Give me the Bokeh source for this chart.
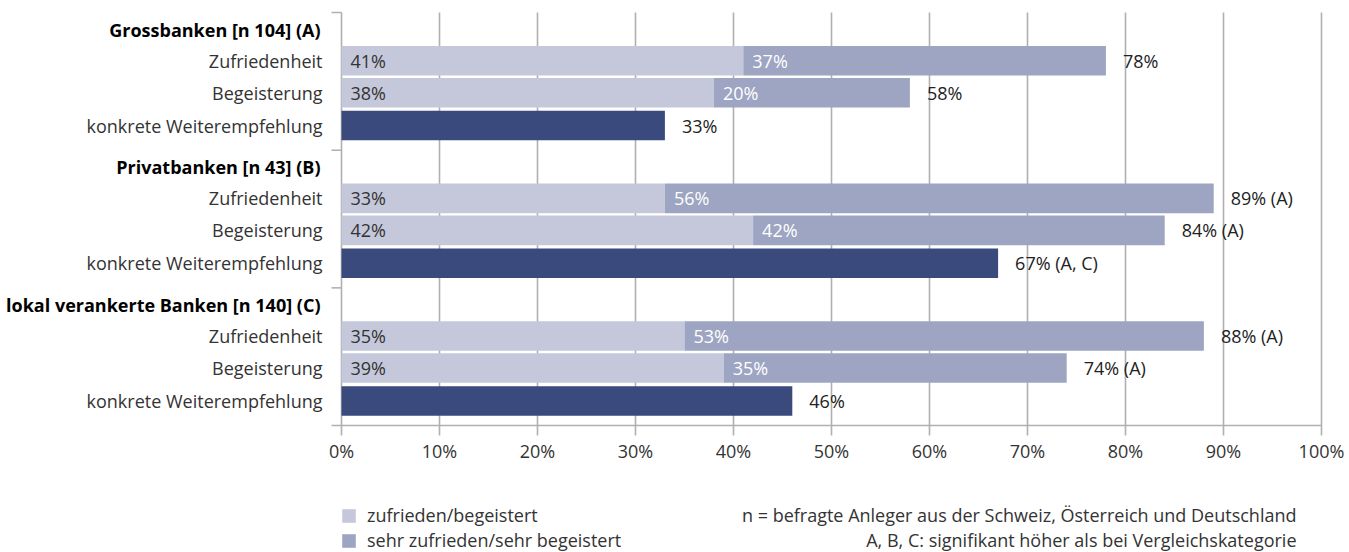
from bokeh.plotting import figure
from bokeh.models import Range1d, FixedTicker, NumeralTickFormatter, ColumnDataSource, Legend, LegendItem, Label
from bokeh.embed import file_html
from bokeh.resources import INLINE
from bokeh.core.properties import value

# ---------------- data ----------------
groups = ["Grossbanken [n 104] (A)", "Privatbanken [n 43] (B)", "lokal verankerte Banken [n 140] (C)"]
metrics = ["Zufriedenheit", "Begeisterung", "konkrete Weiterempfehlung"]
zufriedenheit_zufrieden = [41, 33, 35]
zufriedenheit_sehr = [37, 56, 53]
begeisterung_begeistert = [38, 42, 39]
begeisterung_sehr = [20, 42, 35]
weiterempfehlung = [33, 67, 46]
sig_zufriedenheit = ["", "(A)", "(A)"]
sig_begeisterung = ["", "(A)", "(A)"]
sig_weiterempfehlung = ["", "(A, C)", ""]
x_ticks = [0, 10, 20, 30, 40, 50, 60, 70, 80, 90, 100]
legend_labels = ["zufrieden/begeistert", "sehr zufrieden/sehr begeistert"]
notes = ["n = befragte Anleger aus der Schweiz, Österreich und Deutschland",
         "A, B, C: signifikant höher als bei Vergleichskategorie"]

# ---------------- styles ----------------
FONT = "Open Sans"
FS = "18px"
C_LIGHT = "#c5c8da"
C_MID = "#9da5c2"
C_DARK = "#3b4a7d"
C_GRID = "#b0b0b0"
C_TEXT = "#333333"

ROW_HEADER, ROW_Z, ROW_B, ROW_K = 0.5, 1.40, 2.33, 3.285
BAR_H = 0.86

W, H = 1349, 552
PX = 9.8        # px per percent
PY = 34.42      # px per row unit
X_ZERO_PX = 341
Y_ZERO_PX = 12


def ypos(g, off):
    return -(4 * g + off)


# build sources
light = dict(y=[], left=[], right=[])
mid = dict(y=[], left=[], right=[])
dark = dict(y=[], left=[], right=[])
in_lab = dict(x=[], y=[], text=[])
mid_lab = dict(x=[], y=[], text=[])
tot_lab = dict(x=[], y=[], text=[])
row_lab = dict(y=[], text=[])
head_lab = dict(y=[], text=[])

for g in range(len(groups)):
    head_lab["y"].append(ypos(g, ROW_HEADER)); head_lab["text"].append(groups[g])
    for off, name, a, b, sig in [
        (ROW_Z, metrics[0], zufriedenheit_zufrieden[g], zufriedenheit_sehr[g], sig_zufriedenheit[g]),
        (ROW_B, metrics[1], begeisterung_begeistert[g], begeisterung_sehr[g], sig_begeisterung[g]),
    ]:
        y = ypos(g, off)
        row_lab["y"].append(y); row_lab["text"].append(name)
        light["y"].append(y); light["left"].append(0); light["right"].append(a)
        mid["y"].append(y); mid["left"].append(a); mid["right"].append(a + b)
        in_lab["x"].append(0); in_lab["y"].append(y); in_lab["text"].append(f"{a}%")
        mid_lab["x"].append(a); mid_lab["y"].append(y); mid_lab["text"].append(f"{b}%")
        tot_lab["x"].append(a + b); tot_lab["y"].append(y)
        tot_lab["text"].append(f"{a + b}%" + (f" {sig}" if sig else ""))
    y = ypos(g, ROW_K)
    row_lab["y"].append(y); row_lab["text"].append(metrics[2])
    w = weiterempfehlung[g]
    dark["y"].append(y); dark["left"].append(0); dark["right"].append(w)
    sig = sig_weiterempfehlung[g]
    tot_lab["x"].append(w); tot_lab["y"].append(y)
    tot_lab["text"].append(f"{w}%" + (f" {sig}" if sig else ""))

# ---------------- figure ----------------
X0 = -X_ZERO_PX / PX
X1 = X0 + W / PX
Y1 = Y_ZERO_PX / PY
Y0 = Y1 - H / PY

p = figure(width=W, height=H,
           x_range=Range1d(X0, X1), y_range=Range1d(Y0, Y1),
           output_backend="svg", toolbar_location=None,
           y_axis_location=None,
           min_border_left=0, min_border_right=0,
           min_border_top=0, min_border_bottom=0)
p.outline_line_color = None
p.xgrid.visible = False
p.ygrid.visible = False
p.background_fill_color = "white"
p.border_fill_color = "white"

# grid lines
n = len(x_ticks) - 1
p.segment(x0=x_ticks[1:], y0=[0] * n, x1=x_ticks[1:], y1=[-12] * n,
          line_color=C_GRID, line_width=1.6)
# left bracket axis
p.segment(x0=[0], y0=[0], x1=[0], y1=[-12], line_color=C_GRID, line_width=1.6)
p.segment(x0=[-10 / PX] * 3, y0=[0, -4, -8], x1=[0] * 3, y1=[0, -4, -8],
          line_color=C_GRID, line_width=1.6)

r_light = p.hbar(y="y", left="left", right="right", height=BAR_H, source=ColumnDataSource(light),
                 fill_color=C_LIGHT, line_color=None)
r_mid = p.hbar(y="y", left="left", right="right", height=BAR_H, source=ColumnDataSource(mid),
               fill_color=C_MID, line_color=None)
p.hbar(y="y", left="left", right="right", height=BAR_H, source=ColumnDataSource(dark),
       fill_color=C_DARK, line_color=None)

common = dict(text_font=value(FONT), text_font_size=FS, text_baseline="middle")
p.text(x="x", y="y", text="text", source=ColumnDataSource(in_lab), x_offset=9,
       text_color=C_TEXT, text_align="left", **common)
p.text(x="x", y="y", text="text", source=ColumnDataSource(mid_lab), x_offset=9,
       text_color="white", text_align="left", **common)
p.text(x="x", y="y", text="text", source=ColumnDataSource(tot_lab), x_offset=17,
       text_color="#222222", text_align="left", **common)
p.text(x=0, y="y", text="text", source=ColumnDataSource(row_lab), x_offset=-19,
       text_color=C_TEXT, text_align="right", **common)
p.text(x=0, y="y", text="text", source=ColumnDataSource(head_lab), x_offset=-21,
       text_color="black", text_align="right", text_font_style="bold", **common)

# x axis, fixed at the bottom of the bar area
ax = p.xaxis[0]
ax.fixed_location = -12
ax.ticker = FixedTicker(ticks=x_ticks)
ax.formatter = NumeralTickFormatter(format="0")
ax.major_label_overrides = {t: f"{t}%" for t in x_ticks}
ax.bounds = (-10 / PX, 100)
ax.axis_line_color = C_GRID
ax.axis_line_width = 1.6
ax.major_tick_line_color = C_GRID
ax.major_tick_line_width = 1.6
ax.major_tick_out = 10
ax.major_tick_in = 0
ax.minor_tick_line_color = None
ax.major_label_standoff = 3
ax.major_label_text_font = FONT
ax.major_label_text_font_size = FS
ax.major_label_text_color = C_TEXT

# legend below bar area
legend = Legend(items=[LegendItem(label=legend_labels[0], renderers=[r_light]),
                       LegendItem(label=legend_labels[1], renderers=[r_mid])],
                location=(340, 0), orientation="vertical",
                glyph_width=17, glyph_height=17, label_standoff=10, spacing=1,
                padding=0, margin=0, border_line_color=None, background_fill_alpha=0,
                label_text_font=FONT, label_text_font_size=FS, label_text_color=C_TEXT,
                label_height=17)
p.add_layout(legend, "center")

# notes
for i, (t, ypx) in enumerate(zip(notes, [514, 539])):
    p.add_layout(Label(x=(1296 - X_ZERO_PX) / PX, y=-(ypx - Y_ZERO_PX) / PY, text=t,
                       text_align="right", text_baseline="middle",
                       text_font=FONT, text_font_size=FS, text_color=C_TEXT))

open("out.html", "w").write(file_html(p, INLINE))
